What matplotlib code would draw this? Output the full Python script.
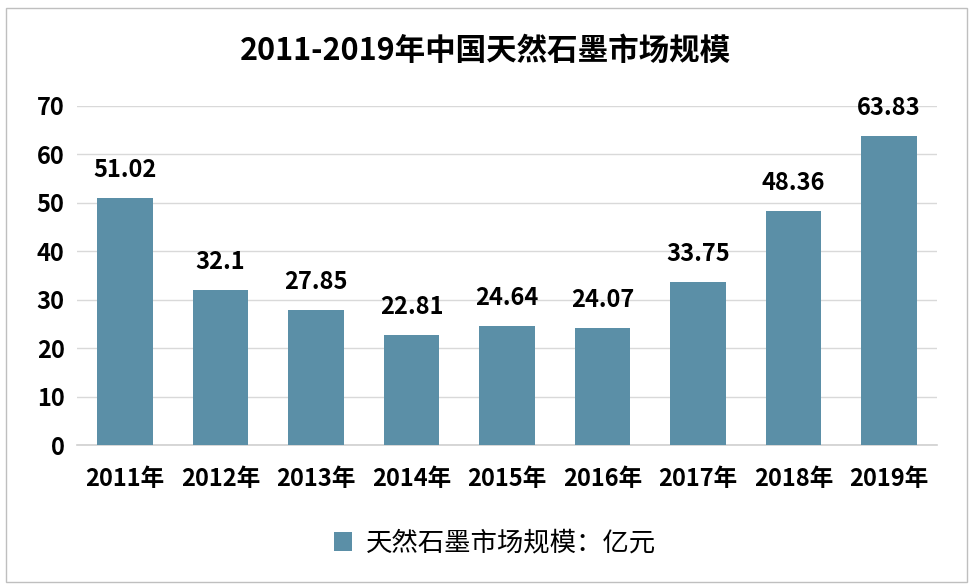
import matplotlib
matplotlib.use("Agg")
import matplotlib.pyplot as plt
from matplotlib.patches import Rectangle

plt.rcParams['font.family'] = ['Noto Sans CJK SC', 'DejaVu Sans']

# Data
years = ['2011年', '2012年', '2013年', '2014年', '2015年', '2016年', '2017年', '2018年', '2019年']
values = [51.02, 32.1, 27.85, 22.81, 24.64, 24.07, 33.75, 48.36, 63.83]
labels = ['51.02', '32.1', '27.85', '22.81', '24.64', '24.07', '33.75', '48.36', '63.83']
yticks = [0, 10, 20, 30, 40, 50, 60, 70]

bar_color = '#5b8fa7'

fig = plt.figure(figsize=(9.76, 5.88), dpi=100)
ax = fig.add_axes([0.079, 0.243, 0.881, 0.577])

# Outer border of the chart
fig.patches.append(Rectangle((0.006, 0.010), 0.985, 0.976, transform=fig.transFigure,
                             fill=False, edgecolor='#bfbfbf', linewidth=1.0))

x = range(len(years))
bars = ax.bar(x, values, width=0.58, color=bar_color, zorder=3, label='天然石墨市场规模：亿元')

for xi, v, lab in zip(x, values, labels):
    ax.text(xi, v + 3.3, lab, ha='center', va='bottom', fontsize=17,
            fontweight='bold', clip_on=False)

ax.set_xlim(-0.5, len(years) - 0.5)
ax.set_ylim(0, 70)
ax.set_yticks(yticks)
ax.set_xticks(list(x))
ax.set_xticklabels(years)
ax.yaxis.grid(True, color='#d9d9d9', linewidth=1.0, zorder=0)
ax.set_axisbelow(True)

for side in ['top', 'right', 'left']:
    ax.spines[side].set_visible(False)
ax.spines['bottom'].set_color('#d0d0d0')
ax.spines['bottom'].set_linewidth(1.2)
ax.tick_params(axis='both', length=0)
ax.tick_params(axis='y', pad=9, labelsize=17)
ax.tick_params(axis='x', pad=16, labelsize=17)
for t in ax.get_xticklabels() + ax.get_yticklabels():
    t.set_fontweight('bold')

fig.text(0.497, 0.914, '2011-2019年中国天然石墨市场规模', ha='center', va='center',
         fontsize=22, fontweight='bold')

fig.legend(handles=[bars], labels=['天然石墨市场规模：亿元'], loc='center',
           bbox_to_anchor=(0.507, 0.076), frameon=False, fontsize=19,
           handlelength=0.7, handleheight=0.7, handletextpad=0.5)

fig.savefig('out.png', dpi=100)
